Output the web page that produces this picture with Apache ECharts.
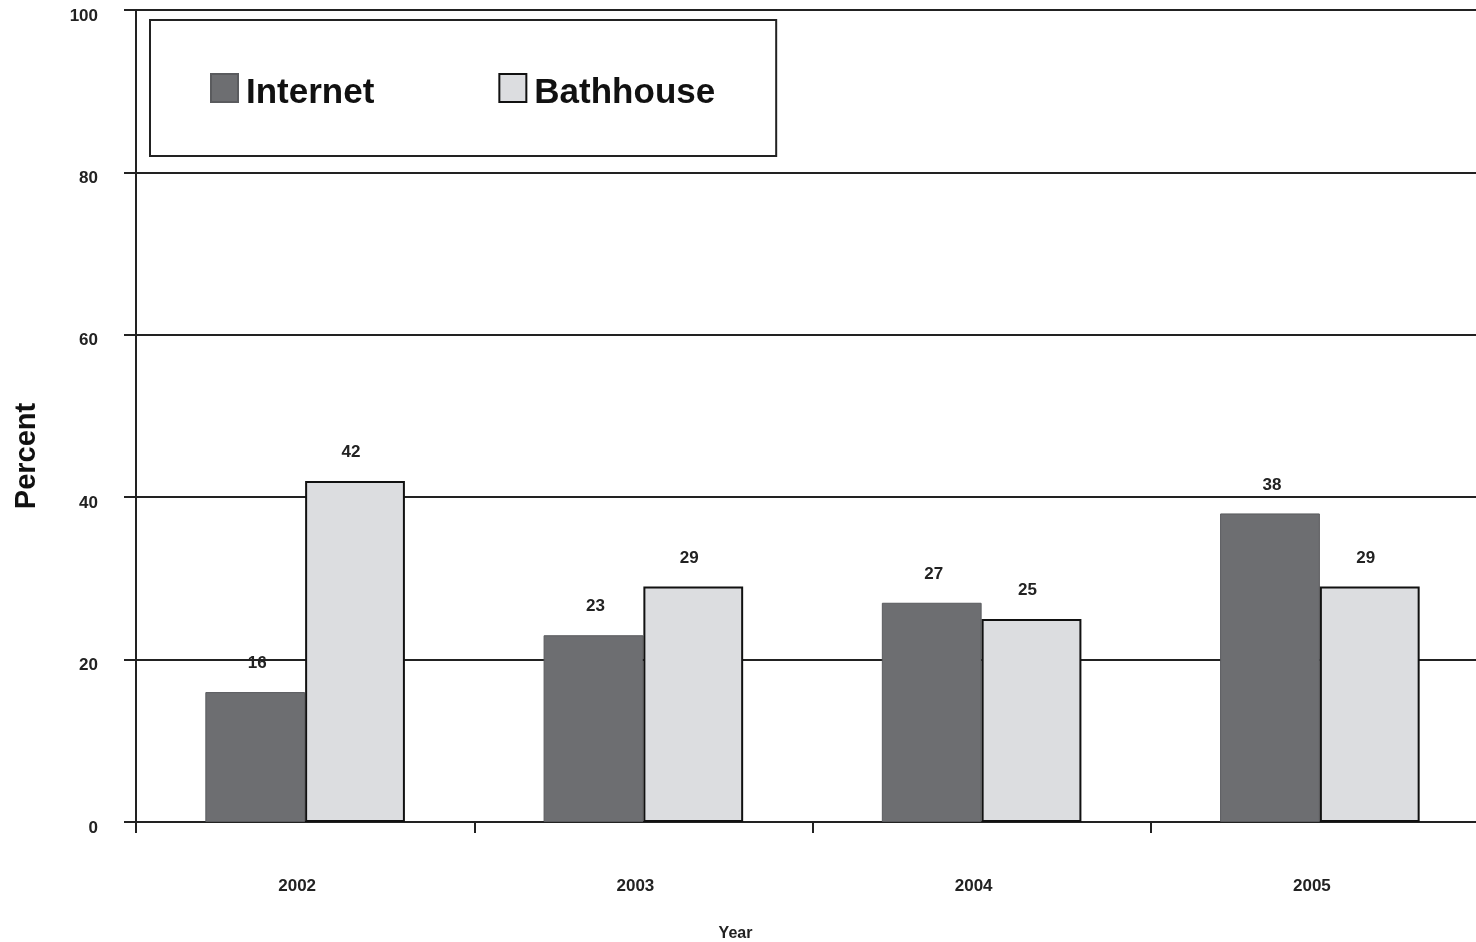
<!DOCTYPE html>
<html>
<head>
<meta charset="utf-8">
<script src="https://cdn.jsdelivr.net/npm/echarts@6/dist/echarts.min.js"></script>
<style>html,body{margin:0;padding:0;background:#fff;}#c{width:1476px;height:942px;}</style>
</head>
<body>
<div id="c"></div>
<script>
const years = ['2002', '2003', '2004', '2005'];
const internet = [16, 23, 27, 38];
const bathhouse = [42, 29, 25, 29];
const yTicks = [0, 20, 40, 60, 80, 100];

const FONT = '"Liberation Sans", Arial, sans-serif';
const chart = echarts.init(document.getElementById('c'));
chart.setOption({
  animation: false,
  backgroundColor: '#fff',
  grid: { left: 136, top: 10, right: -13, bottom: 120, outerBoundsMode: 'none', containLabel: false },
  legend: {
    left: 150, top: 20,
    padding: [53, 61, 45, 60],
    borderColor: '#222', borderWidth: 2,
    itemWidth: 27, itemHeight: 28, itemGap: 124,
    icon: 'rect',
    formatter: name => '{t|' + name + '}',
    textStyle: {
      fontFamily: FONT, fontWeight: 'bold', fontSize: 35, color: '#111',
      rich: { t: { fontFamily: FONT, fontWeight: 'bold', fontSize: 35, color: '#111', padding: [11, 0, 0, 3] } }
    },
    data: ['Internet', 'Bathhouse']
  },
  xAxis: {
    type: 'category', data: years,
    name: 'Year', nameLocation: 'middle', nameGap: 104,
    nameTextStyle: { fontFamily: FONT, fontWeight: 'bold', fontSize: 16, color: '#222', padding: [0, 154, 0, 0] },
    axisLine: { lineStyle: { color: '#222', width: 2 } },
    axisTick: { show: true, length: 11, lineStyle: { color: '#222', width: 2 } },
    axisLabel: { margin: 56, fontFamily: FONT, fontWeight: 'bold', fontSize: 17, color: '#222', padding: [0, 16, 0, 0] }
  },
  yAxis: {
    type: 'value', min: 0, max: 100, interval: 20,
    name: 'Percent', nameLocation: 'middle', nameGap: 95,
    nameTextStyle: { fontFamily: FONT, fontWeight: 'bold', fontSize: 29, color: '#111', padding: [0, 80, 0, 0] },
    axisLine: { show: true, lineStyle: { color: '#222', width: 2 } },
    axisTick: { show: true, length: 12, lineStyle: { color: '#222', width: 2 } },
    axisLabel: { margin: 38, fontFamily: FONT, fontWeight: 'bold', fontSize: 17, color: '#222',
      verticalAlign: 'top', lineHeight: 12,
      formatter: v => yTicks.includes(v) ? String(v) : '' },
    splitLine: { show: true, lineStyle: { color: '#222', width: 2 } }
  },
  series: [
    {
      name: 'Internet', type: 'bar', data: internet,
      barGap: '0%', barCategoryGap: '41%',
      itemStyle: { color: '#6d6e71', borderColor: '#5a5b5e', borderWidth: 1 },
      label: { show: true, position: 'top', distance: 20, fontFamily: FONT, fontWeight: 'bold', fontSize: 17, color: '#222', offset: [2, 0] }
    },
    {
      name: 'Bathhouse', type: 'bar', data: bathhouse,
      itemStyle: { color: '#dcdde0', borderColor: '#111', borderWidth: 2 },
      label: { show: true, position: 'top', distance: 20, fontFamily: FONT, fontWeight: 'bold', fontSize: 17, color: '#222', offset: [-4, 0] }
    }
  ]
});
</script>
</body>
</html>
